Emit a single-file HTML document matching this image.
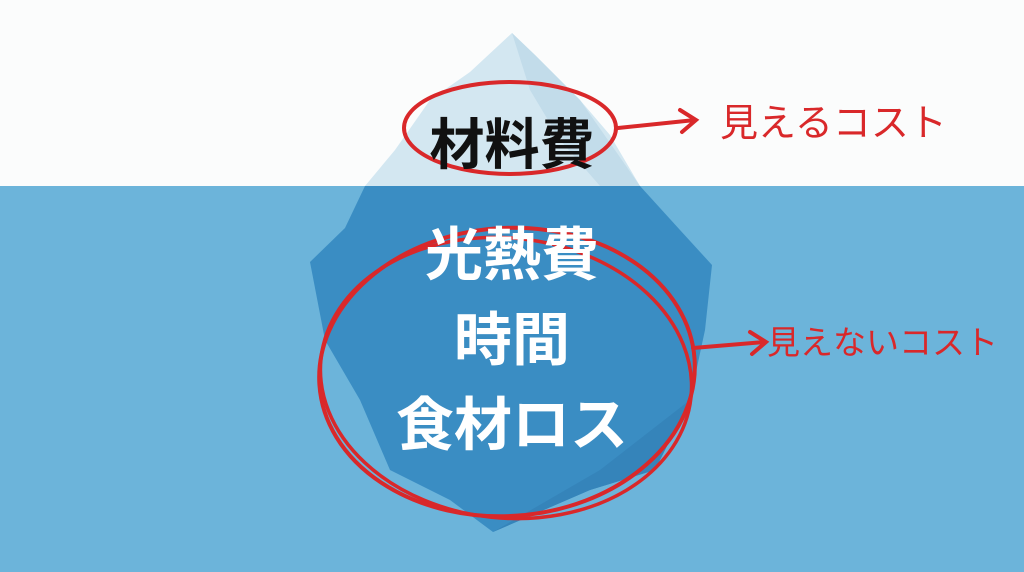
<!DOCTYPE html>
<html><head><meta charset="utf-8"><style>
body{margin:0;width:1024px;height:572px;overflow:hidden;background:#fbfcfc}
svg{display:block}
text{font-family:"Liberation Sans","Noto Sans CJK JP",sans-serif;font-weight:bold}
</style></head><body>
<svg width="1024" height="572" viewBox="0 0 1024 572">
<rect width="1024" height="186" fill="#fbfcfc"/>
<rect y="186" width="1024" height="386" fill="#6cb4da"/>
<polygon points="365,186 395,150 430,100 470,72 512,33 535,55 580,100 610,135 640,186" fill="#d3e7f1"/>
<polygon points="512,33 530,90 560,140 600,186 640,186 580,100 535,55" fill="#c2dcea"/>
<polygon points="365,186 640,186 680,230 712,265 705,330 690,400 655,470 590,490 493,532 450,500 390,470 360,400 325,340 310,262 345,228" fill="#3a8dc3"/>
<polygon points="493,532 590,490 655,470 690,400 600,470" fill="#3584ba"/>
<ellipse cx="510" cy="128" rx="106" ry="46" fill="none" stroke="#d9282a" stroke-width="4"/>
<ellipse cx="507" cy="372" rx="188" ry="144" fill="none" stroke="#d9282a" stroke-width="4" transform="rotate(-4 507 372)"/>
<ellipse cx="506" cy="378" rx="186" ry="140" fill="none" stroke="#d9282a" stroke-width="3.5" transform="rotate(6 506 378)"/>
<text x="512" y="164" font-size="55" text-anchor="middle" fill="#111">材料費</text>
<text x="512" y="275" font-size="58" text-anchor="middle" fill="#fff">光熱費</text>
<text x="512" y="360" font-size="58" text-anchor="middle" fill="#fff">時間</text>
<text x="512" y="445" font-size="58" text-anchor="middle" fill="#fff">食材ロス</text>
<path d="M618,128 L695,120 M680,110 L696,120 L682,132" fill="none" stroke="#d9282a" stroke-width="4" stroke-linecap="round"/>
<path d="M693,348 L765,342 M750,332 L766,342 L752,354" fill="none" stroke="#d9282a" stroke-width="4" stroke-linecap="round"/>
<text x="720" y="136" font-size="38" fill="#d9282a" style="font-weight:normal">見えるコスト</text>
<text x="767" y="354" font-size="33" fill="#d9282a" style="font-weight:normal">見えないコスト</text>
</svg>
</body></html>
